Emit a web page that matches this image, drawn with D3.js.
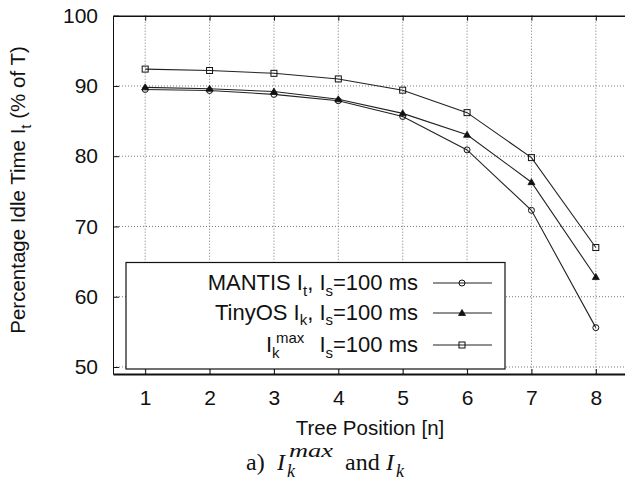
<!DOCTYPE html>
<html>
<head>
<meta charset="utf-8">
<script src="https://cdn.jsdelivr.net/npm/d3@7"></script>
<style>
  body { margin: 0; background: #fff; }
  text { font-family: "Liberation Sans", Arial, Helvetica, sans-serif; fill: #111; }
  .serif { font-family: "Liberation Serif", "Times New Roman", serif; }
</style>
</head>
<body>
<svg id="chart"></svg>
<script>
// data
var positions = [1, 2, 3, 4, 5, 6, 7, 8];
var mantis = [89.5, 89.35, 88.8, 87.9, 85.65, 80.9, 72.3, 55.6];
var tinyos = [89.8, 89.6, 89.2, 88.1, 86.1, 83.05, 76.3, 62.8];
var imax   = [92.4, 92.2, 91.8, 91.0, 89.4, 86.2, 79.8, 67.0];
var yTicks = [50, 60, 70, 80, 90, 100];

var svgWidth = 625, svgHeight = 488;
var plot = { left: 113, top: 15.7, right: 628, bottom: 374 };

var svg = d3.select("#chart")
  .attr("width", svgWidth)
  .attr("height", svgHeight);

var x = d3.scaleLinear().domain([0.5, 8.5]).range([plot.left, plot.right]);
var y = d3.scaleLinear().domain([49, 100]).range([plot.bottom, plot.top]);

// dotted grid
var grid = svg.append("g").attr("class", "grid")
  .attr("stroke", "#777").attr("stroke-width", 1).attr("stroke-dasharray", "1,2");
grid.selectAll("line.gx").data(positions).enter().append("line")
  .attr("x1", function(d) { return x(d); }).attr("x2", function(d) { return x(d); })
  .attr("y1", plot.top).attr("y2", plot.bottom);
grid.selectAll("line.gy").data(yTicks.filter(function(d) { return d < 100; })).enter().append("line")
  .attr("x1", plot.left).attr("x2", plot.right)
  .attr("y1", function(d) { return y(d); }).attr("y2", function(d) { return y(d); });

// axes, ticks pointing inward like gnuplot
var xAxis = svg.append("g")
  .attr("transform", "translate(0," + plot.bottom + ")")
  .call(d3.axisBottom(x).tickValues(positions).tickSizeInner(-5).tickSizeOuter(0).tickPadding(16));
var xTop = svg.append("g")
  .attr("transform", "translate(0," + plot.top + ")")
  .call(d3.axisTop(x).tickValues(positions).tickSizeInner(-5).tickSizeOuter(0).tickFormat(""));
var yAxis = svg.append("g")
  .attr("transform", "translate(" + plot.left + ",0)")
  .call(d3.axisLeft(y).tickValues(yTicks).tickSizeInner(-6).tickSizeOuter(0).tickPadding(15));

[xAxis, xTop, yAxis].forEach(function(a) {
  a.selectAll("path.domain").attr("stroke", "#111");
  a.selectAll(".tick line").attr("stroke", "#111");
  a.selectAll(".tick text")
    .attr("font-family", "'Liberation Sans', Arial, sans-serif")
    .attr("font-size", 21).attr("fill", "#111");
});
xAxis.select("path.domain").attr("stroke-width", 2);
xTop.select("path.domain").attr("stroke-width", 1.5);

// series lines
var line = d3.line()
  .x(function(d, i) { return x(positions[i]); })
  .y(function(d) { return y(d); });

var series = [
  { name: "mantis", values: mantis, marker: "circle" },
  { name: "tinyos", values: tinyos, marker: "triangle" },
  { name: "imax", values: imax, marker: "square" }
];

function drawMarker(g, kind, cx, cy) {
  if (kind === "circle") {
    g.append("circle").attr("cx", cx).attr("cy", cy).attr("r", 3)
      .attr("fill", "none").attr("stroke", "#111").attr("stroke-width", 1);
  } else if (kind === "triangle") {
    g.append("path")
      .attr("d", "M" + cx + "," + (cy - 3.5) + "L" + (cx + 3.5) + "," + (cy + 2.5) + "L" + (cx - 3.5) + "," + (cy + 2.5) + "Z")
      .attr("fill", "#111").attr("stroke", "#111").attr("stroke-width", 0.8);
  } else {
    g.append("rect").attr("x", cx - 3).attr("y", cy - 3).attr("width", 6).attr("height", 6)
      .attr("fill", "none").attr("stroke", "#111").attr("stroke-width", 1);
  }
}

series.forEach(function(s) {
  svg.append("path")
    .datum(s.values)
    .attr("d", line)
    .attr("fill", "none")
    .attr("stroke", "#222")
    .attr("stroke-width", 1.1);
  var mg = svg.append("g");
  s.values.forEach(function(v, i) { drawMarker(mg, s.marker, x(positions[i]), y(v)); });
});

// legend
var legend = svg.append("g");
legend.append("rect")
  .attr("x", 126).attr("y", 262.5).attr("width", 379).attr("height", 106.5)
  .attr("fill", "#fff").attr("stroke", "#111").attr("stroke-width", 1.2);

var rows = [
  { y: 290, marker: "circle", label: [["MANTIS I", 0], ["t", 6], [", I", -6], ["s", 6], ["=100 ms", -6]] },
  { y: 320, marker: "triangle", label: [["TinyOS I", 0], ["k", 5], [", I", -5], ["s", 5], ["=100 ms", -5]] },
  { y: 352, marker: "square", label: [["I", 0], ["s", 6], ["=100 ms", -6]] }
];
rows.forEach(function(r) {
  var t = legend.append("text")
    .attr("x", 418).attr("y", r.y)
    .attr("text-anchor", "end")
    .attr("font-size", 22);
  r.label.forEach(function(p) {
    var ts = t.append("tspan").attr("dy", p[1]).text(p[0]);
    if (p[0].length === 1 && p[0] !== "I") ts.attr("font-size", 15);
  });
  legend.append("line")
    .attr("x1", 433).attr("x2", 492)
    .attr("y1", r.y - 7).attr("y2", r.y - 7)
    .attr("stroke", "#222").attr("stroke-width", 1.1);
  drawMarker(legend, r.marker, 462, r.y - 7);
});
// stacked I_k^max in the third legend row
legend.append("text").attr("x", 266).attr("y", 352).attr("font-size", 22).text("I");
legend.append("text").attr("x", 272).attr("y", 358).attr("font-size", 15).text("k");
legend.append("text").attr("x", 276).attr("y", 343).attr("font-size", 15).text("max");

// axis titles
svg.append("text")
  .attr("x", 370).attr("y", 435)
  .attr("text-anchor", "middle")
  .attr("font-size", 20.5)
  .text("Tree Position [n]");

svg.append("text")
  .attr("transform", "translate(25,190) rotate(-90)")
  .attr("text-anchor", "middle")
  .attr("font-size", 20.5)
  .call(function(t) {
    t.append("tspan").text("Percentage Idle Time I");
    t.append("tspan").attr("dy", 6).attr("font-size", 15).text("t");
    t.append("tspan").attr("dy", -6).text(" (% of T)");
  });

// caption below the chart
var cap = svg.append("g").attr("class", "serif");
function capText(txt, cx, cy, size, italic) {
  return cap.append("text").attr("class", "serif")
    .attr("x", cx).attr("y", cy).attr("font-size", size)
    .attr("font-style", italic ? "italic" : "normal")
    .text(txt);
}
capText("a)", 246, 470, 24, false);
capText("I", 277, 470, 24, true);
capText("max", 289, 457, 18, true)
  .attr("textLength", 44).attr("lengthAdjust", "spacingAndGlyphs");
capText("k", 287, 477, 18, true);
capText("and", 345, 470, 24, false);
capText("I", 386, 470, 24, true);
capText("k", 396, 477, 18, true);
</script>
</body>
</html>
